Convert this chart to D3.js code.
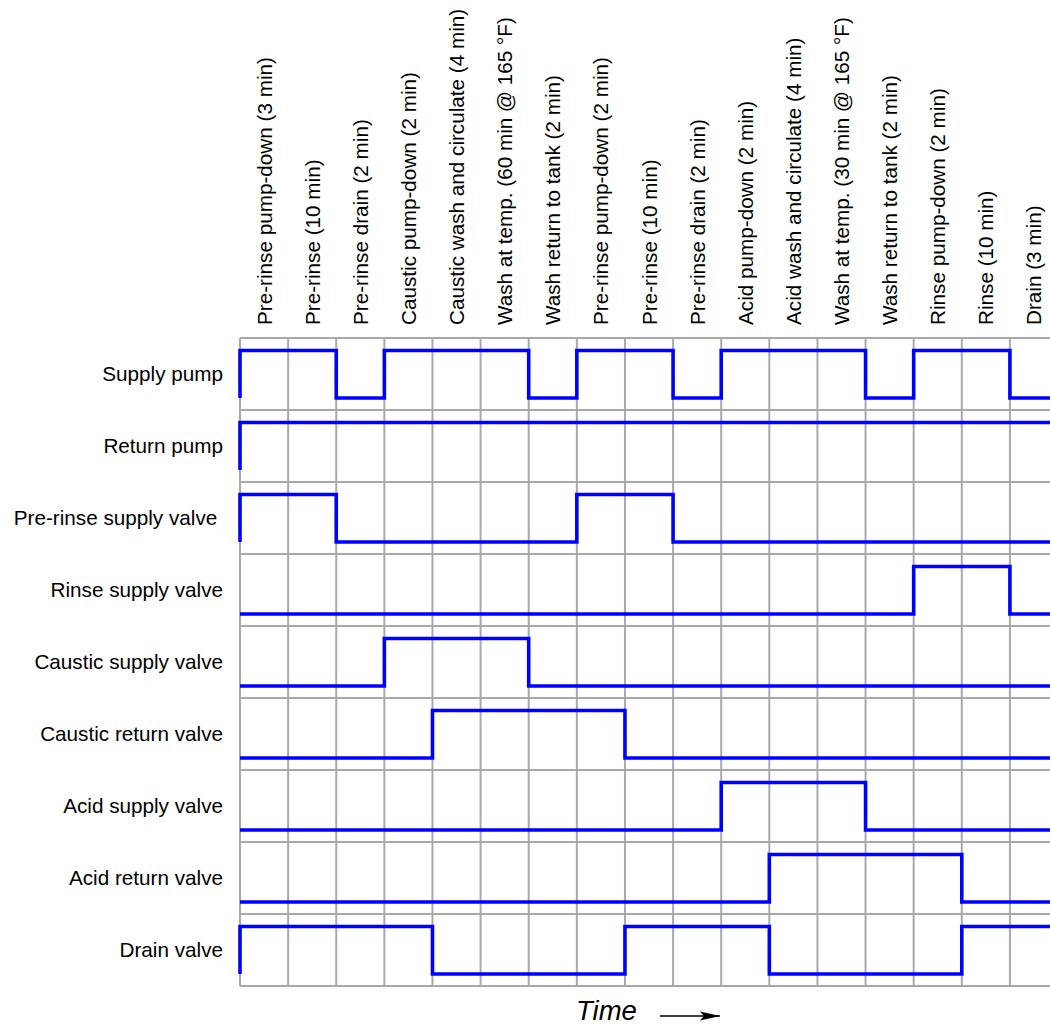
<!DOCTYPE html>
<html>
  <head>
    <title>CIP sequence timing diagram</title>
    <meta charset="utf-8">
    <style>
      body { margin: 0; background: white; }
      svg { display: block; }
      .grid line { stroke: #a9a9a9; stroke-width: 2; }
      .signal { fill: none; stroke: #0000ff; stroke-width: 3.6; stroke-linejoin: miter; }
      .stepLabel, .rowLabel { font: 20.7px "Liberation Sans", Arial, sans-serif; fill: #000; white-space: pre; }
      .timeLabel { font: italic 27.5px "Liberation Sans", Arial, sans-serif; fill: #000; }
    </style>
  </head>
  <body>
  <svg id="chart"></svg>
  <script src="https://d3js.org/d3.v7.min.js"></script>
  <script>

  // sequence steps (column headers)
  var steps = [
    "Pre-rinse pump-down (3 min)",
    "Pre-rinse (10 min)",
    "Pre-rinse drain (2 min)",
    "Caustic pump-down (2 min)",
    "Caustic wash and circulate (4 min)",
    "Wash at temp. (60 min @ 165 °F)",
    "Wash return to tank (2 min)",
    "Pre-rinse pump-down (2 min)",
    "Pre-rinse (10 min)",
    "Pre-rinse drain (2 min)",
    "Acid pump-down (2 min)",
    "Acid wash and circulate (4 min)",
    "Wash at temp. (30 min @ 165 °F)",
    "Wash return to tank (2 min)",
    "Rinse pump-down (2 min)",
    "Rinse (10 min)",
    "Drain (3 min)"
  ];

  var devices = [
    "Supply pump",
    "Return pump",
    "Pre-rinse supply valve ",
    "Rinse supply valve",
    "Caustic supply valve",
    "Caustic return valve",
    "Acid supply valve",
    "Acid return valve",
    "Drain valve"
  ];

  // on/off state of each device during each step
  var supplyPump      = [1,1,0,1,1,1,0,1,1,0,1,1,1,0,1,1,0];
  var returnPump      = [1,1,1,1,1,1,1,1,1,1,1,1,1,1,1,1,1];
  var preRinseSupply  = [1,1,0,0,0,0,0,1,1,0,0,0,0,0,0,0,0];
  var rinseSupply     = [0,0,0,0,0,0,0,0,0,0,0,0,0,0,1,1,0];
  var causticSupply   = [0,0,0,1,1,1,0,0,0,0,0,0,0,0,0,0,0];
  var causticReturn   = [0,0,0,0,1,1,1,1,0,0,0,0,0,0,0,0,0];
  var acidSupply      = [0,0,0,0,0,0,0,0,0,0,1,1,1,0,0,0,0];
  var acidReturn      = [0,0,0,0,0,0,0,0,0,0,0,1,1,1,1,0,0];
  var drainValve      = [1,1,1,1,0,0,0,0,1,1,1,0,0,0,0,1,1];

  var states = [supplyPump, returnPump, preRinseSupply, rinseSupply, causticSupply,
                causticReturn, acidSupply, acidReturn, drainValve];

  var width = 1050, height = 1028;
  var gridLeft = 240, colW = 48.12, gridTop = 338, gridBottom = 986;

  var svg = d3.select("#chart")
    .attr("width", width)
    .attr("height", height);

  var x = d3.scaleLinear()
    .domain([0, steps.length])
    .range([gridLeft, gridLeft + steps.length * colW]);

  var row = d3.scaleBand()
    .domain(devices)
    .range([gridTop, gridBottom]);

  // signal level inside a row band
  var level = d3.scaleLinear()
    .domain([0, 1])
    .range([60, 12.5]);

  // grid
  var grid = svg.append("g").attr("class", "grid");

  grid.selectAll(".v")
    .data(d3.range(steps.length + 1))
    .enter().append("line")
    .attr("class", "v")
    .attr("x1", function(d) { return x(d); })
    .attr("x2", function(d) { return x(d); })
    .attr("y1", gridTop)
    .attr("y2", gridBottom);

  grid.selectAll(".h")
    .data(d3.range(devices.length + 1))
    .enter().append("line")
    .attr("class", "h")
    .attr("x1", x(0))
    .attr("x2", x(steps.length))
    .attr("y1", function(d) { return gridTop + d * row.bandwidth(); })
    .attr("y2", function(d) { return gridTop + d * row.bandwidth(); });

  // column headers
  svg.selectAll(".stepLabel")
    .data(steps)
    .enter().append("text")
    .attr("class", "stepLabel")
    .attr("transform", function(d, i) {
      return "translate(" + (x(i + 0.5) + 7.5) + "," + 325 + ") rotate(-90)";
    })
    .text(function(d) { return d; });

  // row labels
  svg.selectAll(".rowLabel")
    .data(devices)
    .enter().append("text")
    .attr("class", "rowLabel")
    .attr("x", 223)
    .attr("y", function(d) { return row(d) + row.bandwidth() / 2 + 7; })
    .attr("text-anchor", "end")
    .text(function(d) { return d; });

  // waveforms
  var line = d3.line()
    .x(function(p) { return x(p.t); })
    .y(function(p) { return p.y; })
    .curve(d3.curveStepAfter);

  states.forEach(function(s, r) {
    var y0 = row(devices[r]);
    var pts = [{t: 0, y: y0 + level(0)}];
    s.forEach(function(v, i) { pts.push({t: i, y: y0 + level(v)}); });
    pts.push({t: s.length, y: y0 + level(s[s.length - 1])});
    svg.append("path")
      .attr("class", "signal")
      .attr("d", line(pts));
  });

  // time label with arrow
  svg.append("defs").append("marker")
    .attr("id", "arrow")
    .attr("viewBox", "0 0 20 10")
    .attr("refX", 20).attr("refY", 5)
    .attr("markerWidth", 20).attr("markerHeight", 10)
    .attr("markerUnits", "userSpaceOnUse")
    .attr("orient", "auto")
    .append("path")
    .attr("d", "M0,0.5 L20,5 L0,9.5 L4,5 Z")
    .attr("fill", "#000");

  svg.append("text")
    .attr("class", "timeLabel")
    .attr("x", 576)
    .attr("y", 1020)
    .text("Time");

  svg.append("line")
    .attr("x1", 660).attr("x2", 720)
    .attr("y1", 1016).attr("y2", 1016)
    .attr("stroke", "#000")
    .attr("stroke-width", 1.6)
    .attr("marker-end", "url(#arrow)");

  </script>
  </body>
</html>
